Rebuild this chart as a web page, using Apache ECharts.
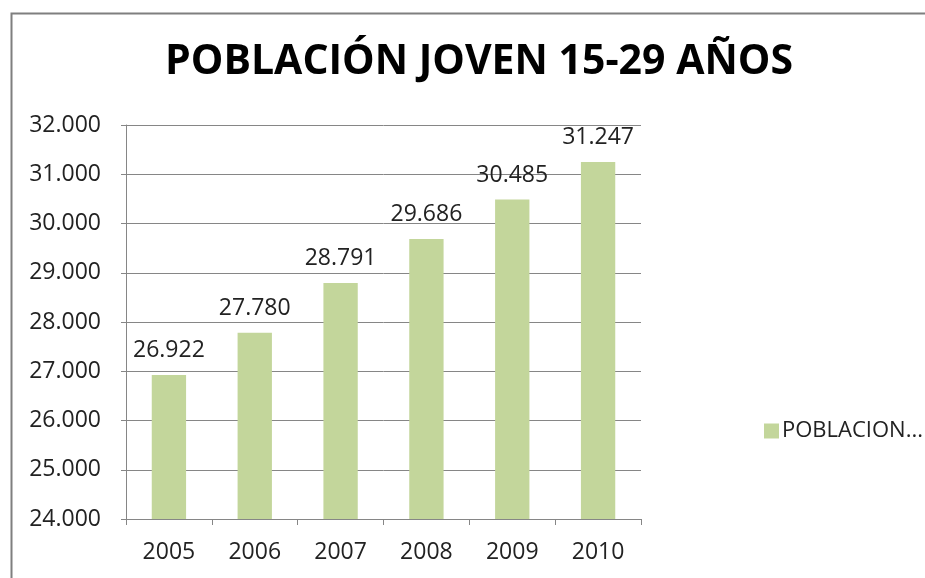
<!DOCTYPE html>
<html>
<head>
<meta charset="utf-8">
<script src="https://cdn.jsdelivr.net/npm/echarts@6/dist/echarts.min.js"></script>
<style>
  html, body { margin: 0; padding: 0; background: #fff; }
  #chart { width: 925px; height: 578px; }
</style>
</head>
<body>
<div id="chart"></div>
<script>
var years = ["2005", "2006", "2007", "2008", "2009", "2010"];
var poblacion = [26922, 27780, 28791, 29686, 30485, 31247];
var seriesName = "POBLACION JOVEN 15-29 AÑOS";

function miles(v) {
  return String(v).replace(/\B(?=(\d{3})+(?!\d))/g, ".");
}

var chartDom = document.getElementById("chart");
var myChart = echarts.init(chartDom);
var option;

option = {
  animation: false,
  textStyle: { fontFamily: "Open Sans" },
  title: {
    text: "POBLACIÓN JOVEN 15-29 AÑOS",
    left: 474,
    textAlign: "center",
    top: 37,
    textStyle: {
      fontFamily: "Open Sans",
      fontSize: 41,
      fontWeight: "bold",
      color: "#000",
    },
  },
  graphic: [
    {
      type: "rect",
      shape: { x: 11.5, y: 13.5, width: 940, height: 600 },
      style: { fill: "none", stroke: "#7f7f7f", lineWidth: 2 },
      silent: true,
    },
  ],
  legend: {
    left: 759,
    top: 415,
    itemWidth: 15,
    itemHeight: 15,
    itemGap: 6,
    icon: "rect",
    formatter: function () {
      return "POBLACION...";
    },
    textStyle: { fontSize: 22, color: "#222", padding: [0, 0, 0, -2] },
  },
  grid: {
    left: 126,
    right: 284,
    top: 125,
    bottom: 59,
  },
  xAxis: {
    type: "category",
    data: years,
    boundaryGap: true,
    axisLine: { lineStyle: { color: "#868686", width: 1 } },
    axisTick: { show: true, length: 6, lineStyle: { color: "#868686" } },
    axisLabel: { fontSize: 23, color: "#222", margin: 22 },
  },
  yAxis: {
    type: "value",
    min: 24000,
    max: 32000,
    interval: 1000,
    axisLine: { show: true, lineStyle: { color: "#868686", width: 1 } },
    axisTick: { show: true, length: 5, lineStyle: { color: "#868686" } },
    splitLine: { lineStyle: { color: "#868686", width: 1 } },
    axisLabel: {
      fontSize: 23,
      color: "#222",
      margin: 25,
      formatter: function (v) {
        return miles(v);
      },
    },
  },
  series: [
    {
      name: seriesName,
      type: "bar",
      data: poblacion,
      barWidth: "40%",
      itemStyle: { color: "#c3d69b" },
      label: {
        show: true,
        position: "top",
        distance: 13,
        fontSize: 23,
        color: "#222",
        formatter: function (p) {
          return miles(p.value);
        },
      },
    },
  ],
};

myChart.setOption(option);
window.addEventListener("resize", function () {
  myChart.resize();
});
</script>
</body>
</html>
